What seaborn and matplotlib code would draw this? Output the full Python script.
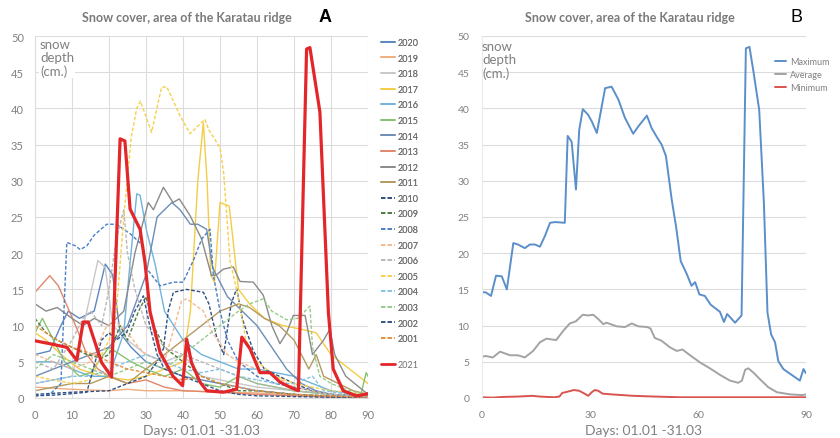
import numpy as np
import pandas as pd
import matplotlib
matplotlib.use("Agg")
import matplotlib.pyplot as plt
import seaborn as sns
from matplotlib.lines import Line2D

sns.set_style("white")
plt.rcParams['font.family'] = ['Lato', 'DejaVu Sans']

# ---------------- data (day, snow depth) ----------------
years = ["2020", "2019", "2018", "2017", "2016", "2015", "2014", "2013", "2012", "2011",
         "2010", "2009", "2008", "2007", "2006", "2005", "2004", "2003", "2002", "2001"]

d2020 = [(0,6),(4,6.5),(7,10),(9,12),(12,11),(16,12),(19,18.5),(21,17),(23,9),(26,7),(30,5),(35,4),(40,3),(45,2.5),(50,2),(55,1.5),(60,1),(70,0.5),(80,0.2),(90,0)]
d2019 = [(0,1.5),(10,1.2),(20,1),(25,1.2),(30,1),(40,1),(50,0.8),(60,0.7),(70,0.4),(80,0.2),(90,0)]
d2018 = [(0,2),(10,3),(14,12),(17,19),(19,18),(21,10),(25,8),(30,6),(35,5),(40,6),(45,3),(50,2.5),(55,2),(60,1.5),(70,1),(80,0.5),(90,0.2)]
d2017 = [(0,9),(3,8),(7,6),(12,4),(18,3),(25,2.5),(30,3),(35,4),(40,5),(42,12),(44,30),(45.5,38),(46.5,30),(47.5,17),(48.5,16),(50,27),(52.5,26.5),(55,15),(58,13),(62,11),(67,10),(72,9.5),(76,9),(80,6),(85,4),(90,2)]
d2016 = [(0,5),(5,5),(10,4),(15,3),(20,3),(24,9),(25.7,18.7),(27.5,28.2),(28.4,28),(30.2,23),(32.4,18.6),(35,12),(40,8),(45,6),(50,5),(55,4),(60,4),(65,3.5),(70,3),(75,2),(80,1),(90,0.3)]
d2015 = [(0,9),(2,11),(5,8),(8,5),(12,3),(15,3.5),(20,7),(23,6),(26,5),(30,4),(35,3),(40,4),(45,2),(50,1.5),(55,3),(60,2),(70,1),(80,0.5),(88,0.3),(89.5,3.5),(90,3)]
d2014 = [(0,3),(5,4),(10,5),(15,6),(20,7),(25,10),(30,17),(33,25),(35,26),(37,27),(39.2,26),(42,24),(44,24),(46.4,23.3),(48,18),(52,14),(56,12),(60,10),(64,7),(68,4),(72,2),(76,1),(80,0.5),(90,0.2)]
d2013 = [(0,14.6),(4,16.9),(6.3,15.5),(8.6,12.8),(11.3,9.6),(14,6),(17,4),(20,3),(25,2),(30,2.5),(35,1.5),(40,1),(50,0.8),(60,0.5),(70,0.3),(80,0.1),(90,0)]
d2012 = [(0,13),(3,12),(6,12.5),(10,11),(13,10),(16,11),(20,10),(24,12),(27,20),(30.6,27),(32,26),(34.7,29.1),(37.3,27),(39,27.5),(41.9,25.2),(45,22),(47.7,16.9),(49,17),(50.9,17.8),(53.6,18.1),(55.4,16.1),(59,16),(61.7,14.2),(64,10),(66.2,7.5),(68,9),(69.8,11.4),(73,11.4),(75,6),(78,8),(79.7,9.5),(81,6),(84,3),(90,0.5)]
d2011 = [(0,1),(5,1.5),(10,2),(15,2),(20,3),(25,2),(30,4),(35,6),(40,8),(45,10),(50,12),(55,13),(58,12.5),(62,11),(66,10),(70,8),(74,4),(76,6),(78,3),(82,2),(86,1),(90,0.5)]
d2010 = [(0,0.5),(10,0.8),(20,1),(25,2),(30,3),(33,5),(34.7,6.8),(36,12),(37.4,14.6),(41,15),(45.5,14.6),(47,13),(49,8.6),(51,6),(53,13),(54.5,15.1),(56,11),(59,6.5),(62,4),(66,3),(70,2),(75,1),(80,0.5),(90,0.2)]
d2009 = [(0,11),(3,9),(6,8),(10,7),(14,6),(18,5.5),(20,6),(23,10),(25,8),(28,12),(30,14),(32,10),(35,7),(40,5),(45,3),(50,2),(55,1),(60,1),(70,0.5),(80,0.3),(90,0)]
d2008 = [(0,0.3),(4,0.5),(7,2),(8.6,21.5),(11,21),(12.2,20.5),(14,21),(16,22.5),(19.4,24),(22,24),(25.7,22.7),(29.3,21),(30,18),(33.8,15.5),(37.4,16),(40,16),(42.8,19),(45.1,22),(47.3,23.3),(48.2,17),(50,12),(52,8),(55,5),(60,3),(65,2),(70,1.5),(80,0.5),(90,0.2)]
d2007 = [(0,6),(5,5),(10,4),(15,5),(19.4,10),(22,10.5),(25,9),(28,7),(30,6),(35,5),(39.6,13.4),(41,13.7),(45.5,12),(48,9),(52,6),(55,5),(60,4),(65,3),(70,1.5),(75,1),(80,0.5),(90,0.2)]
d2006 = [(0,5),(5,4),(10,8),(13,11),(15,12),(18,10),(20,15),(22,22),(24,26),(25,20),(27,15),(30,10),(35,7),(40,6),(45,5),(50,4),(55,3),(60,2),(70,1),(80,0.5),(90,0.2)]
d2005 = [(0,3),(5,2.5),(10,2),(15,2.5),(18,6),(20,8),(22,12),(24,25),(26,36),(27.5,40),(28.5,41),(31.5,36.7),(34.2,42.9),(35.6,43),(39.2,39),(41.9,36.5),(45.9,38.5),(47,37),(50,34.6),(51,31),(52.7,19),(54.5,15),(57,8),(60,5),(65,3),(70,2),(80,1),(90,0.5)]
d2004 = [(0,2),(5,2.5),(10,3),(15,3),(20,4),(25,5),(30,6),(35,5),(40,4),(45,3.5),(50,4),(55,3),(60,2.5),(65,2),(70,2),(75,3),(78,1),(85,0.5),(90,0.2)]
d2003 = [(0,4),(5,6),(10,5),(15,4),(20,3),(25,4),(30,5),(35,4),(40,6),(45,8),(50,10),(55,12),(58,13),(61.7,13.7),(64,12),(68,10.8),(71,11),(73,12),(74.3,12.7),(75,7),(77,3),(80,2),(85,1),(90,0.5)]
d2002 = [(0,0.3),(5,0.4),(10,0.6),(14,0.8),(16.7,5.8),(18,8),(20,9),(22,8),(24.8,9.1),(27,12),(29.3,14.1),(31,10),(33,6),(35,4),(40,3),(45,2),(50,1),(55,0.5),(60,0.3),(70,0.2),(90,0)]
d2001 = [(0,10),(3,9),(6,8),(10,7),(13,6.5),(16,6),(20,5),(25,4),(30,3.5),(35,3),(40,2.5),(45,3),(50,2),(55,1.5),(60,1),(70,0.5),(80,0.3),(90,0.1)]
d2021 = [(0,7.9),(4,7.5),(8.6,7.0),(11.3,5.2),(13,10.5),(14.4,10.5),(16.2,7.7),(18,4.9),(20.7,2.9),(23,35.8),(24.3,35.5),(25.7,26.1),(28.4,23.3),(29.7,18.8),(31.1,11.9),(33.8,6.3),(37.3,3.0),(39.9,1.7),(41,8.1),(42.3,4.9),(44.6,2.2),(46.4,1.0),(50.9,0.8),(54.5,1.2),(55.9,8.4),(58.1,6.8),(60.8,3.5),(63.5,3.5),(66.2,2.2),(68.9,1.5),(71.2,1.0),(73.4,48.2),(74.3,48.4),(77,39.5),(79.3,11.8),(80.6,4.0),(83.3,1.0),(86.9,0.3),(89.2,0.5),(90,0.6)]

series = dict(zip(years, [d2020, d2019, d2018, d2017, d2016, d2015, d2014, d2013, d2012, d2011,
                          d2010, d2009, d2008, d2007, d2006, d2005, d2004, d2003, d2002, d2001]))

maximum = [(0,14.6),(1,14.6),(2.5,14.1),(3.9,16.9),(5.5,16.8),(6.9,15.0),(8.7,21.4),(10,21.2),(11.9,20.7),(13.3,21.2),(14.7,21.2),(16.1,20.9),(17.5,22.4),(18.9,24.2),(20.3,24.3),(23,24.2),(23.8,36.2),(24.9,35.4),(26.1,28.8),(27,37.0),(28,39.9),(29.5,39.1),(30.5,38.2),(31.9,36.6),(34.2,42.8),(36,43.0),(37.9,41.2),(39.7,38.7),(42,36.5),(43.4,37.5),(45.8,39.0),(47.1,37.3),(48.5,36.1),(49.9,35.0),(51.1,33.4),(52.7,27.4),(53.9,23.7),(55.2,18.9),(56.9,17.1),(58.2,15.5),(59.2,16.0),(60.4,14.3),(61.9,14.1),(63.5,12.9),(66.1,11.9),(67.2,10.5),(68.1,11.6),(70.3,10.4),(72.1,11.4),(73.3,48.3),(74.3,48.5),(75.4,45.1),(77.0,39.8),(78.3,27.0),(79.3,11.8),(80.3,8.8),(81.4,7.7),(82.3,5.1),(83.7,4.0),(88.3,2.4),(89.3,4.0),(90,3.4)]
average = [(0,5.7),(1,5.8),(3,5.6),(5,6.4),(7.8,5.9),(10,5.9),(11.9,5.6),(14.2,6.5),(16.1,7.7),(17.9,8.2),(20.6,8.0),(22.6,9.3),(24.4,10.3),(26.1,10.6),(28,11.5),(29.5,11.4),(30.9,11.5),(32.3,10.9),(33.7,10.2),(34.6,10.4),(37.4,9.9),(39.7,9.8),(41.6,10.3),(43.4,9.9),(45.9,9.8),(46.8,9.6),(48,8.3),(49.9,7.9),(52.2,7.0),(54.1,6.5),(55.7,6.7),(57.8,5.9),(60.6,4.9),(63.3,4.1),(66.1,3.2),(68.9,2.4),(71.2,2.1),(72.2,2.4),(73.1,3.9),(74,4.1),(75.4,3.5),(77.2,2.6),(79.5,1.5),(81.9,0.8),(85.6,0.5),(89,0.4),(90,0.5)]
minimum = [(0,0.1),(3,0.05),(6,0.15),(10,0.2),(14,0.3),(16,0.2),(20,0.1),(21.5,0.2),(22.3,0.7),(24,0.9),(25.5,1.1),(27,1.0),(28.5,0.6),(29.5,0.3),(30.5,0.8),(31.3,1.1),(32.3,1.0),(33.5,0.6),(36,0.5),(39,0.4),(42,0.3),(48,0.2),(55,0.1),(65,0.1),(75,0.1),(90,0.1)]

colors = {"2020": "#5b87c0", "2019": "#f0ae80", "2018": "#c8c8c8", "2017": "#f5cc45",
          "2016": "#6fb3de", "2015": "#88c270", "2014": "#6d8db5", "2013": "#e0876a",
          "2012": "#8a8a8a", "2011": "#b39a62", "2010": "#2f4f80", "2009": "#4f7d3f",
          "2008": "#4a80c2", "2007": "#f5b890", "2006": "#b8b8b8", "2005": "#f5d050",
          "2004": "#85c3e3", "2003": "#95cc8a", "2002": "#34558a", "2001": "#e8903f"}
dashed = {y: (int(y) <= 2010) for y in years}
DASH = (2.6, 1.4)

gray_txt = "#808080"
grid_c = "#dcdcdc"

fig = plt.figure(figsize=(8.4, 4.39), dpi=100)
axA = fig.add_axes([35/840, 40/439, 333/840, 362/439])
axB = fig.add_axes([482/840, 40/439, 324/840, 362/439])

def to_df(pts):
    return pd.DataFrame(pts, columns=["day", "depth"])

# ---------------- panel A ----------------
for y in years:
    df = to_df(series[y])
    kw = dict(dashes=DASH) if dashed[y] else {}
    sns.lineplot(data=df, x="day", y="depth", ax=axA, color=colors[y], lw=1.0,
                 estimator=None, sort=False, zorder=2, **kw)
df21 = to_df(d2021)
sns.lineplot(data=df21, x="day", y="depth", ax=axA, color="#e3262a", lw=2.3,
             estimator=None, sort=False, zorder=5)

axA.set_xlim(0, 90)
axA.set_ylim(0, 50)
axA.set_xticks(range(0, 91, 10))
axA.set_yticks(range(0, 51, 5))
axA.grid(True, color=grid_c, lw=0.8)
axA.set_axisbelow(True)
for s in axA.spines.values():
    s.set_visible(False)
axA.spines['left'].set_visible(True)
axA.spines['left'].set_color(grid_c)
axA.spines['bottom'].set_visible(True)
axA.spines['bottom'].set_color(grid_c)
axA.tick_params(length=0, labelsize=8, labelcolor=gray_txt, pad=8)
axA.set_xlabel("Days: 01.01 -31.03", fontsize=10, color=gray_txt, labelpad=3)
axA.set_ylabel("")
axA.text(0.015, 0.995, "snow\ndepth\n(cm.)", transform=axA.transAxes, ha="left", va="top",
         fontsize=9.5, color=gray_txt, linespacing=1.15,
         bbox=dict(facecolor="white", edgecolor="none", pad=0.5))

handles = [Line2D([], [], color=colors[y], lw=1.2, **({"dashes": DASH} if dashed[y] else {}))
           for y in years]
legA = fig.legend(handles, years, loc="upper left", bbox_to_anchor=(381/840, 1 - 39/439),
                  frameon=False, fontsize=6.5, labelcolor="#707070", handlelength=1.6,
                  handletextpad=0.2, labelspacing=0.73, borderpad=0, borderaxespad=0)
fig.legend([Line2D([], [], color="#e3262a", lw=2.0)], ["2021"], loc="upper left",
           bbox_to_anchor=(381/840, 1 - 361/439), frameon=False, fontsize=6.5,
           labelcolor="#707070", handlelength=1.6, handletextpad=0.2, borderpad=0, borderaxespad=0)
fig.add_artist(legA)

fig.text(187/840, 1 - 18/439, "Snow cover, area of the Karatau ridge", ha="center", va="center",
         fontsize=9, fontweight="bold", color="#7a7a7a")
fig.text(325/840, 1 - 17/439, "A", ha="center", va="center", fontsize=13, fontweight="bold",
         color="black", family=["Liberation Sans", "DejaVu Sans"])

# ---------------- panel B ----------------
for pts, c, lab in [(maximum, "#5b8fc9", "Maximum"), (average, "#a3a3a3", "Average"),
                    (minimum, "#d9534f", "Minimum")]:
    sns.lineplot(data=to_df(pts), x="day", y="depth", ax=axB, color=c, lw=1.4,
                 estimator=None, sort=False, label=lab)

axB.set_xlim(0, 90)
axB.set_ylim(0, 50)
axB.set_xticks([0, 30, 60, 90])
axB.set_yticks(range(0, 51, 5))
axB.yaxis.grid(True, color=grid_c, lw=0.8)
axB.xaxis.grid(False)
axB.set_axisbelow(True)
for s in axB.spines.values():
    s.set_visible(False)
axB.spines['left'].set_visible(True)
axB.spines['left'].set_color("#ececec")
axB.tick_params(length=0, labelsize=7.5, labelcolor=gray_txt, pad=9)
axB.set_xlabel("Days: 01.01 -31.03", fontsize=10, color=gray_txt, labelpad=3)
axB.set_ylabel("")
axB.text(0.0, 0.99, "snow\ndepth\n(cm.)", transform=axB.transAxes, ha="left", va="top",
         fontsize=9.5, color=gray_txt, linespacing=1.15)
axB.get_legend().remove()
hB = [Line2D([], [], color=c, lw=1.4) for c in ["#5b8fc9", "#a3a3a3", "#d9534f"]]
fig.legend(hB, ["Maximum", "Average", "Minimum"], loc="upper left",
           bbox_to_anchor=(775/840, 1 - 58/439), frameon=False, fontsize=6.5,
           labelcolor="#808080", handlelength=1.2, handletextpad=0.5, labelspacing=0.45,
           borderpad=0, borderaxespad=0)

fig.text(630/840, 1 - 18/439, "Snow cover, area of the Karatau ridge", ha="center", va="center",
         fontsize=9, fontweight="bold", color="#7a7a7a")
fig.text(797/840, 1 - 17/439, "B", ha="center", va="center", fontsize=13,
         color="black", family=["Liberation Sans", "DejaVu Sans"])

fig.savefig("out.png", dpi=100, facecolor="white")
